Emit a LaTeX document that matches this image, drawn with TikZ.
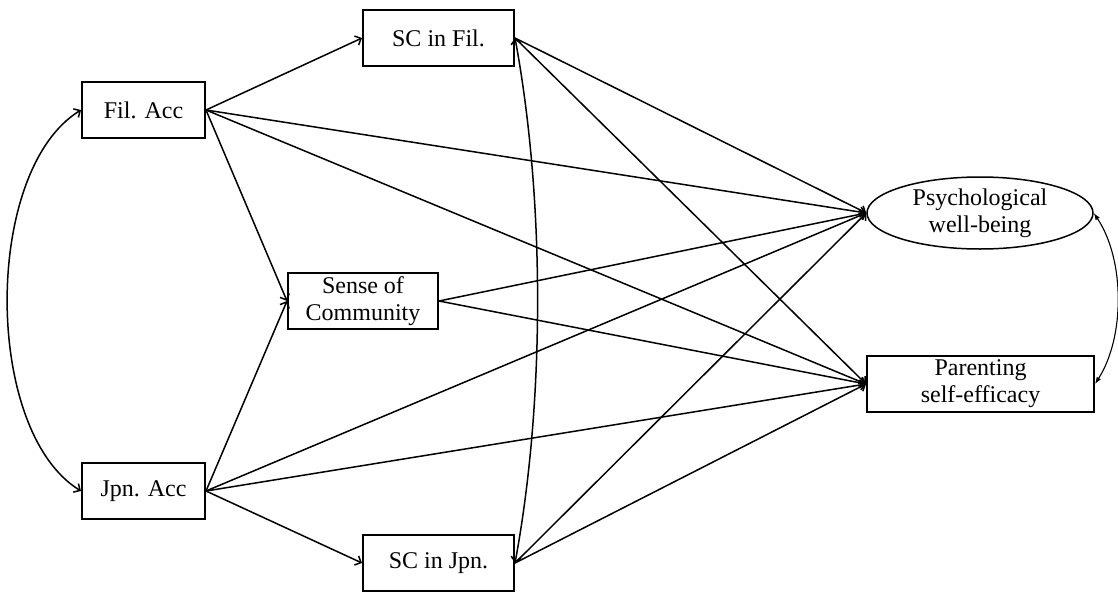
\documentclass[tikz,border=0pt]{standalone}
\usepackage{fontspec}
\setmainfont{Liberation Serif}
\usetikzlibrary{arrows.meta,shapes.geometric}
\begin{document}
\begin{tikzpicture}[x=1pt,y=-1pt,
  every node/.style={font=\fontsize{24}{27}\selectfont, align=center, inner sep=0pt},
  boxnode/.style={draw, line width=2pt, rectangle, minimum height=56pt},
  ovalnode/.style={draw, line width=1.5pt, ellipse, minimum width=226pt, minimum height=72pt},
  path/.style={line width=1.5pt, -{Straight Barb[length=5pt,width=10pt,line width=1.5pt]}},
  cov/.style={line width=1.5pt, {Straight Barb[length=5pt,width=10pt,line width=1.5pt]}-{Straight Barb[length=5pt,width=10pt,line width=1.5pt]}},
  covb/.style={line width=1.1pt, {Latex[length=7pt,width=5pt]}-{Latex[length=7pt,width=5pt]}}
]
\useasboundingbox (0,0) rectangle (1118,592);
\node[boxnode, minimum width=123pt] (fil) at (143.5,110) {Fil. Acc};
\node[boxnode, minimum width=151pt] (scf) at (438.5,38) {SC in Fil.};
\node[boxnode, minimum width=150pt] (soc) at (363,301) {Sense of\\Community};
\node[boxnode, minimum width=123pt] (jpn) at (143.5,491) {Jpn. Acc};
\node[boxnode, minimum width=151pt] (scj) at (438.5,563) {SC in Jpn.};
\node[ovalnode] (pwb) at (980,213) {Psychological\\well-being};
\node[boxnode, minimum width=227pt] (pse) at (980.5,384) {Parenting\\self-efficacy};

% covariances
\draw[cov] (fil.west) .. controls (-17,170) and (-17,431) .. (jpn.west);
\draw[cov] (scf.east) .. controls (545,200) and (545,401) .. (scj.east);
\draw[covb] (pwb.east) .. controls (1125,260) and (1125,337) .. (pse.east);

% paths
\draw[path] (fil.east) -- (scf.west);
\draw[path] (fil.east) -- (soc.west);
\draw[path] (fil.east) -- (pwb.west);
\draw[path] (fil.east) -- (pse.west);
\draw[path] (jpn.east) -- (scj.west);
\draw[path] (jpn.east) -- (soc.west);
\draw[path] (jpn.east) -- (pwb.west);
\draw[path] (jpn.east) -- (pse.west);
\draw[path] (scf.east) -- (pwb.west);
\draw[path] (scf.east) -- (pse.west);
\draw[path] (scj.east) -- (pwb.west);
\draw[path] (scj.east) -- (pse.west);
\draw[path] (soc.east) -- (pwb.west);
\draw[path] (soc.east) -- (pse.west);
\end{tikzpicture}
\end{document}
